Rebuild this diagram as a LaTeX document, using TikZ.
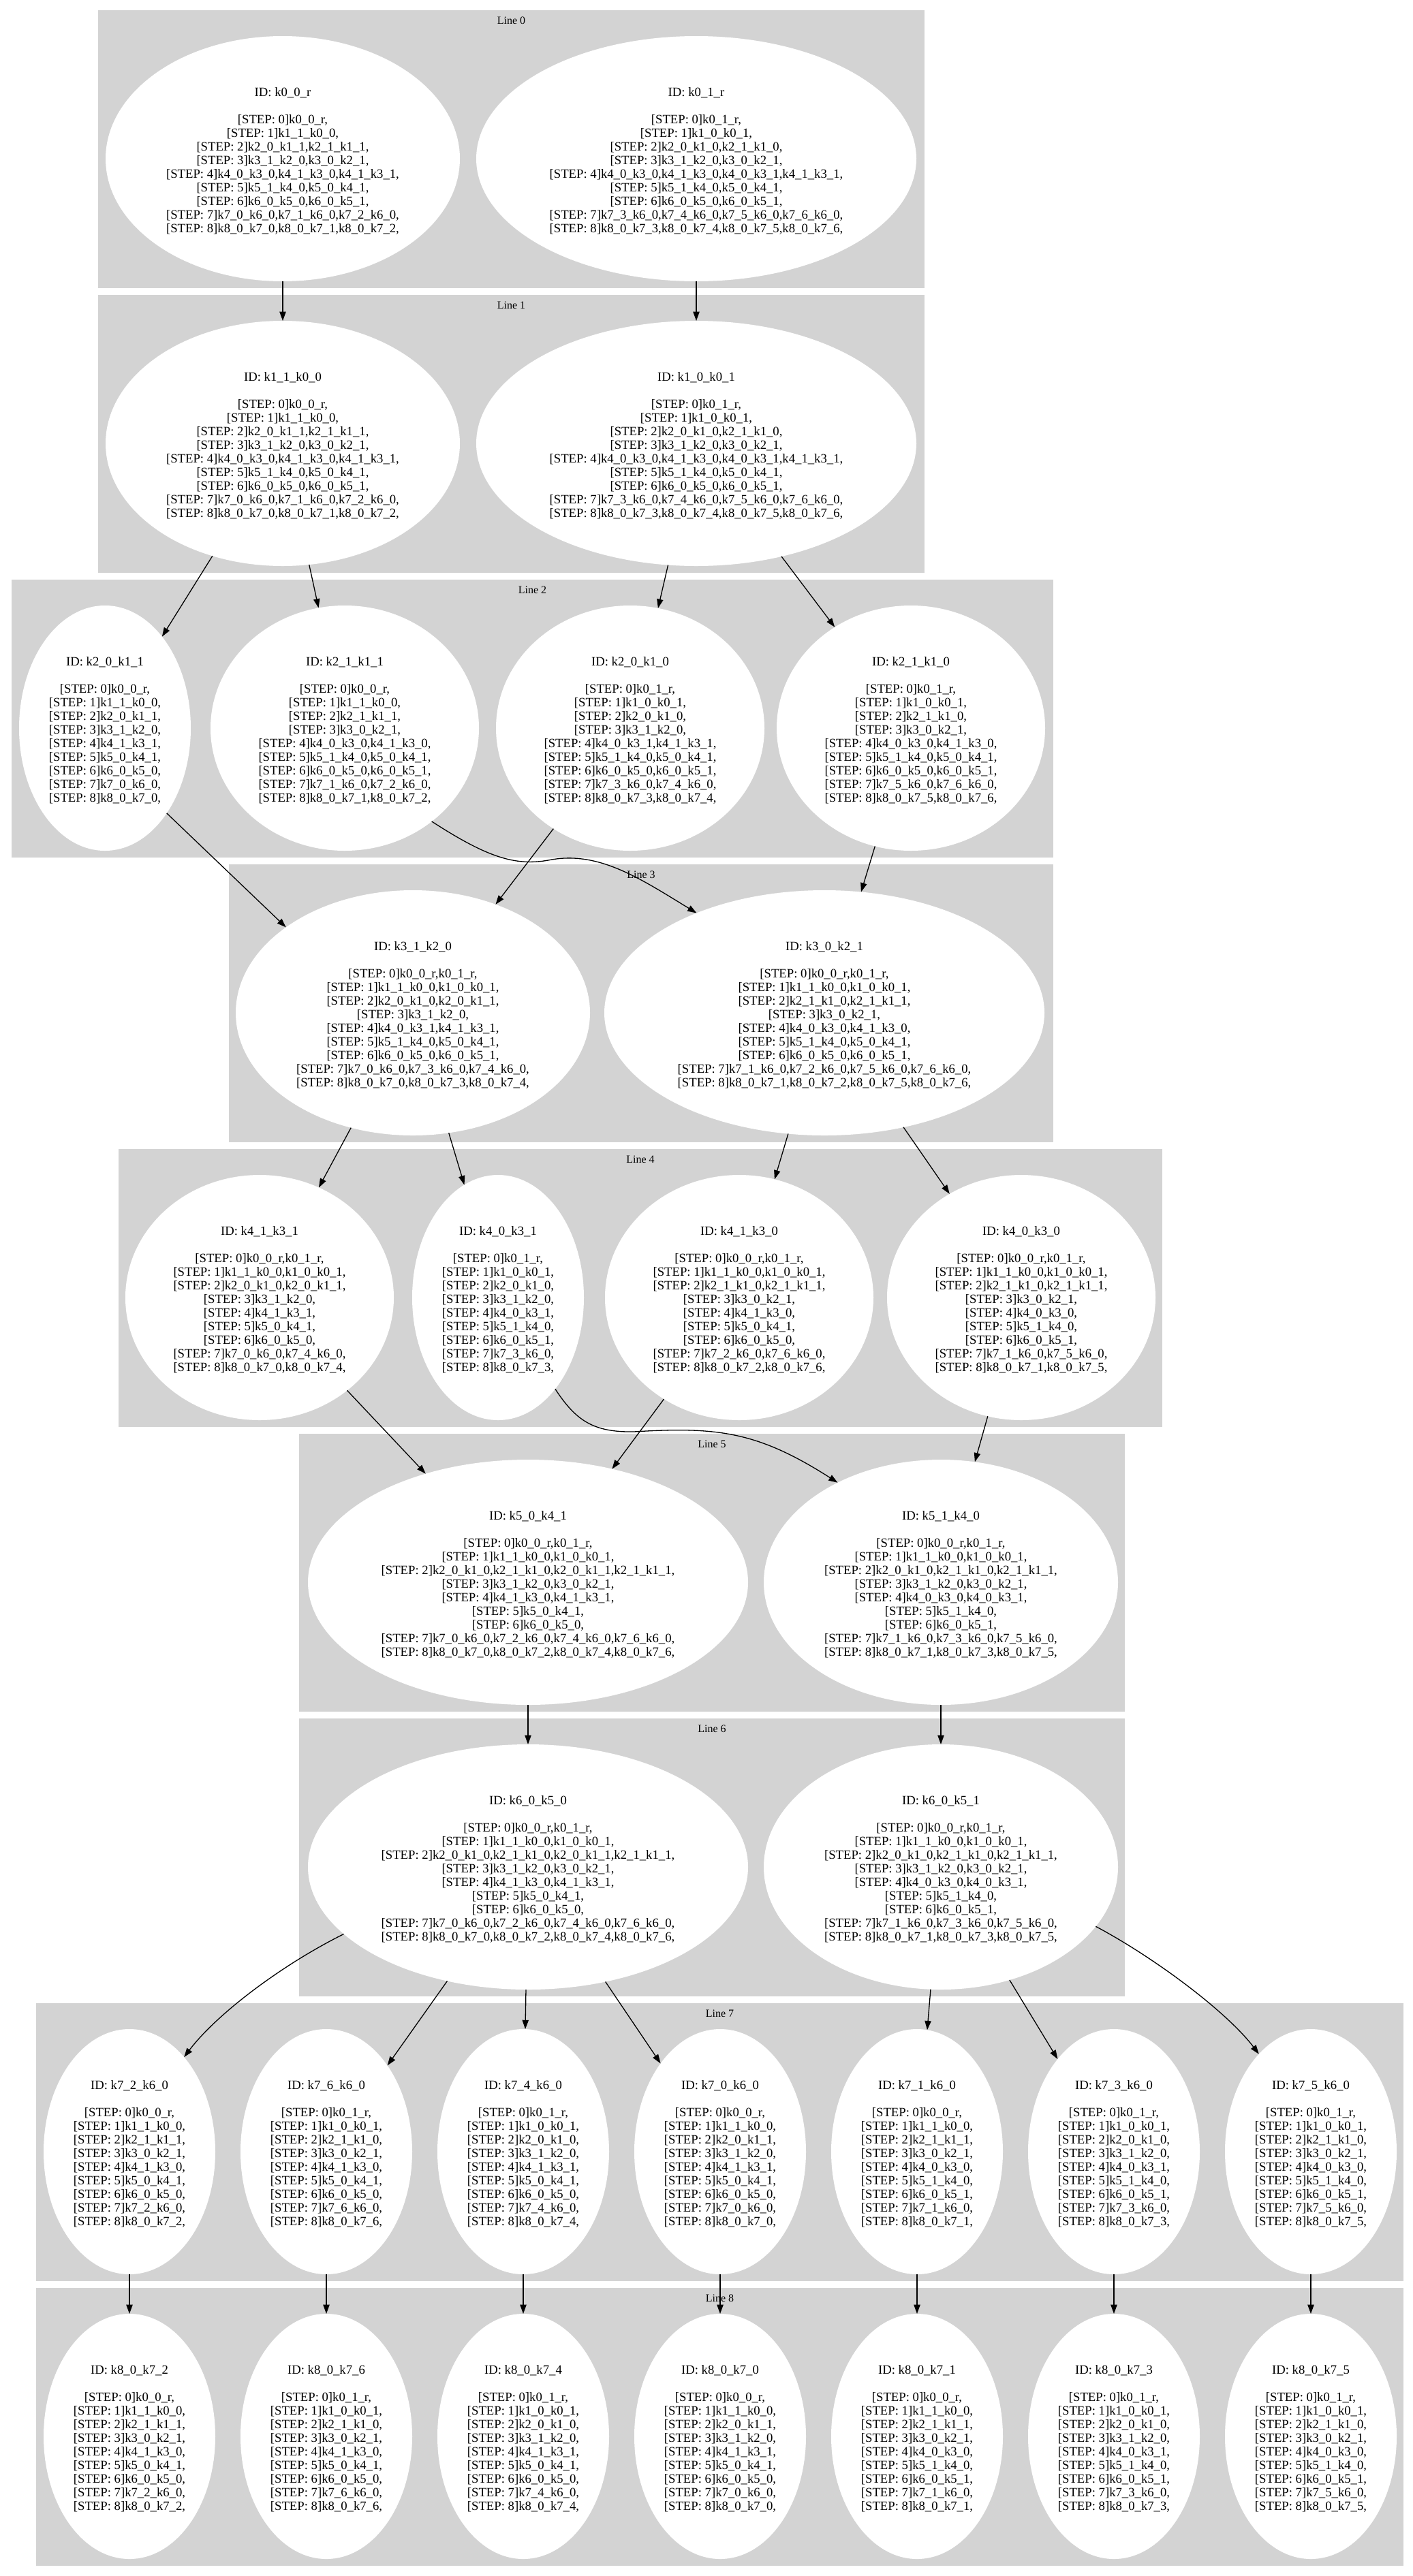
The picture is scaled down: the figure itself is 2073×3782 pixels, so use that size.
\documentclass[tikz,border=0pt]{standalone}
\usepackage{fontspec}
\setmainfont{Liberation Serif}
\usetikzlibrary{arrows.meta}
\usetikzlibrary{shapes.geometric}
\definecolor{clustergray}{RGB}{211,211,211}
\catcode`\_=12
\newcommand{\sline}[2]{[STEP: #1]#2,}
\newcommand{\idtext}[1]{\mbox{}\\ID: #1\\\mbox{}\\}
\newcommand{\chain}[9]{\sline{0}{#1}\\\sline{1}{#2}\\\sline{2}{#3}\\\sline{3}{#4}\\\sline{4}{#5}\\\sline{5}{#6}\\\sline{6}{#7}\\\sline{7}{#8}\\\sline{8}{#9}}
\newcommand{\rootLeft}{\chain{k0_0_r}{k1_1_k0_0}{k2_0_k1_1,k2_1_k1_1}{k3_1_k2_0,k3_0_k2_1}{k4_0_k3_0,k4_1_k3_0,k4_1_k3_1}{k5_1_k4_0,k5_0_k4_1}{k6_0_k5_0,k6_0_k5_1}{k7_0_k6_0,k7_1_k6_0,k7_2_k6_0}{k8_0_k7_0,k8_0_k7_1,k8_0_k7_2}}
\newcommand{\rootRight}{\chain{k0_1_r}{k1_0_k0_1}{k2_0_k1_0,k2_1_k1_0}{k3_1_k2_0,k3_0_k2_1}{k4_0_k3_0,k4_1_k3_0,k4_0_k3_1,k4_1_k3_1}{k5_1_k4_0,k5_0_k4_1}{k6_0_k5_0,k6_0_k5_1}{k7_3_k6_0,k7_4_k6_0,k7_5_k6_0,k7_6_k6_0}{k8_0_k7_3,k8_0_k7_4,k8_0_k7_5,k8_0_k7_6}}
\newcommand{\midLeft}{\chain{k0_0_r,k0_1_r}{k1_1_k0_0,k1_0_k0_1}{k2_0_k1_0,k2_1_k1_0,k2_0_k1_1,k2_1_k1_1}{k3_1_k2_0,k3_0_k2_1}{k4_1_k3_0,k4_1_k3_1}{k5_0_k4_1}{k6_0_k5_0}{k7_0_k6_0,k7_2_k6_0,k7_4_k6_0,k7_6_k6_0}{k8_0_k7_0,k8_0_k7_2,k8_0_k7_4,k8_0_k7_6}}
\newcommand{\midRight}{\chain{k0_0_r,k0_1_r}{k1_1_k0_0,k1_0_k0_1}{k2_0_k1_0,k2_1_k1_0,k2_1_k1_1}{k3_1_k2_0,k3_0_k2_1}{k4_0_k3_0,k4_0_k3_1}{k5_1_k4_0}{k6_0_k5_1}{k7_1_k6_0,k7_3_k6_0,k7_5_k6_0}{k8_0_k7_1,k8_0_k7_3,k8_0_k7_5}}
\newcommand{\walkZero}{\chain{k0_0_r}{k1_1_k0_0}{k2_0_k1_1}{k3_1_k2_0}{k4_1_k3_1}{k5_0_k4_1}{k6_0_k5_0}{k7_0_k6_0}{k8_0_k7_0}}
\newcommand{\walkOne}{\chain{k0_0_r}{k1_1_k0_0}{k2_1_k1_1}{k3_0_k2_1}{k4_0_k3_0}{k5_1_k4_0}{k6_0_k5_1}{k7_1_k6_0}{k8_0_k7_1}}
\newcommand{\walkTwo}{\chain{k0_0_r}{k1_1_k0_0}{k2_1_k1_1}{k3_0_k2_1}{k4_1_k3_0}{k5_0_k4_1}{k6_0_k5_0}{k7_2_k6_0}{k8_0_k7_2}}
\newcommand{\walkThree}{\chain{k0_1_r}{k1_0_k0_1}{k2_0_k1_0}{k3_1_k2_0}{k4_0_k3_1}{k5_1_k4_0}{k6_0_k5_1}{k7_3_k6_0}{k8_0_k7_3}}
\newcommand{\walkFour}{\chain{k0_1_r}{k1_0_k0_1}{k2_0_k1_0}{k3_1_k2_0}{k4_1_k3_1}{k5_0_k4_1}{k6_0_k5_0}{k7_4_k6_0}{k8_0_k7_4}}
\newcommand{\walkFive}{\chain{k0_1_r}{k1_0_k0_1}{k2_1_k1_0}{k3_0_k2_1}{k4_0_k3_0}{k5_1_k4_0}{k6_0_k5_1}{k7_5_k6_0}{k8_0_k7_5}}
\newcommand{\walkSix}{\chain{k0_1_r}{k1_0_k0_1}{k2_1_k1_0}{k3_0_k2_1}{k4_1_k3_0}{k5_0_k4_1}{k6_0_k5_0}{k7_6_k6_0}{k8_0_k7_6}}

\begin{document}
\begin{tikzpicture}[x=1pt, y=-1pt, >={Triangle[length=13.3pt, width=9.3pt]},
  trace/.style={ellipse, fill=white, inner sep=0pt, outer sep=0pt, minimum height=360pt, align=center, font=\fontsize{18.7}{20}\selectfont},
  wone/.style={minimum width=252pt}, wtwo/.style={minimum width=394pt},
  wthree/.style={minimum width=520pt}, wfour/.style={minimum width=646pt},
  link/.style={->, line width=1.3pt},
  tag/.style={inner sep=0pt, font=\fontsize{16}{19}\selectfont}]
\useasboundingbox (0,0) rectangle (2073,3782);
\foreach \i/\xa/\xb in {0/144/1357, 1/144/1357, 2/17/1546, 3/336/1546, 4/174/1706, 5/439/1651, 6/439/1651, 7/53/2060, 8/53/2060} {
 \fill[clustergray] (\xa,{15+418*\i}) rectangle (\xb,{423+418*\i});
 \node[tag] (line\i) at ({(\xa+\xb)/2},{30+418*\i}) {Line \i};
}
\node[trace,wthree] (k0_0_r) at (415,233) {\idtext{k0_0_r}\rootLeft};
\node[trace,wfour] (k0_1_r) at (1022,233) {\idtext{k0_1_r}\rootRight};
\node[trace,wthree] (k1_1_k0_0) at (415,651) {\idtext{k1_1_k0_0}\rootLeft};
\node[trace,wfour] (k1_0_k0_1) at (1022,651) {\idtext{k1_0_k0_1}\rootRight};
\node[trace,wone] (k2_0_k1_1) at (154,1069) {\idtext{k2_0_k1_1}\walkZero};
\node[trace,wtwo] (k2_1_k1_1) at (506,1069) {\idtext{k2_1_k1_1}\chain{k0_0_r}{k1_1_k0_0}{k2_1_k1_1}{k3_0_k2_1}{k4_0_k3_0,k4_1_k3_0}{k5_1_k4_0,k5_0_k4_1}{k6_0_k5_0,k6_0_k5_1}{k7_1_k6_0,k7_2_k6_0}{k8_0_k7_1,k8_0_k7_2}};
\node[trace,wtwo] (k2_0_k1_0) at (925,1069) {\idtext{k2_0_k1_0}\chain{k0_1_r}{k1_0_k0_1}{k2_0_k1_0}{k3_1_k2_0}{k4_0_k3_1,k4_1_k3_1}{k5_1_k4_0,k5_0_k4_1}{k6_0_k5_0,k6_0_k5_1}{k7_3_k6_0,k7_4_k6_0}{k8_0_k7_3,k8_0_k7_4}};
\node[trace,wtwo] (k2_1_k1_0) at (1337,1069) {\idtext{k2_1_k1_0}\chain{k0_1_r}{k1_0_k0_1}{k2_1_k1_0}{k3_0_k2_1}{k4_0_k3_0,k4_1_k3_0}{k5_1_k4_0,k5_0_k4_1}{k6_0_k5_0,k6_0_k5_1}{k7_5_k6_0,k7_6_k6_0}{k8_0_k7_5,k8_0_k7_6}};
\node[trace,wthree] (k3_1_k2_0) at (606,1487) {\idtext{k3_1_k2_0}\chain{k0_0_r,k0_1_r}{k1_1_k0_0,k1_0_k0_1}{k2_0_k1_0,k2_0_k1_1}{k3_1_k2_0}{k4_0_k3_1,k4_1_k3_1}{k5_1_k4_0,k5_0_k4_1}{k6_0_k5_0,k6_0_k5_1}{k7_0_k6_0,k7_3_k6_0,k7_4_k6_0}{k8_0_k7_0,k8_0_k7_3,k8_0_k7_4}};
\node[trace,wfour] (k3_0_k2_1) at (1210,1487) {\idtext{k3_0_k2_1}\chain{k0_0_r,k0_1_r}{k1_1_k0_0,k1_0_k0_1}{k2_1_k1_0,k2_1_k1_1}{k3_0_k2_1}{k4_0_k3_0,k4_1_k3_0}{k5_1_k4_0,k5_0_k4_1}{k6_0_k5_0,k6_0_k5_1}{k7_1_k6_0,k7_2_k6_0,k7_5_k6_0,k7_6_k6_0}{k8_0_k7_1,k8_0_k7_2,k8_0_k7_5,k8_0_k7_6}};
\node[trace,wtwo] (k4_1_k3_1) at (381,1905) {\idtext{k4_1_k3_1}\chain{k0_0_r,k0_1_r}{k1_1_k0_0,k1_0_k0_1}{k2_0_k1_0,k2_0_k1_1}{k3_1_k2_0}{k4_1_k3_1}{k5_0_k4_1}{k6_0_k5_0}{k7_0_k6_0,k7_4_k6_0}{k8_0_k7_0,k8_0_k7_4}};
\node[trace,wone] (k4_0_k3_1) at (731,1905) {\idtext{k4_0_k3_1}\walkThree};
\node[trace,wtwo] (k4_1_k3_0) at (1085,1905) {\idtext{k4_1_k3_0}\chain{k0_0_r,k0_1_r}{k1_1_k0_0,k1_0_k0_1}{k2_1_k1_0,k2_1_k1_1}{k3_0_k2_1}{k4_1_k3_0}{k5_0_k4_1}{k6_0_k5_0}{k7_2_k6_0,k7_6_k6_0}{k8_0_k7_2,k8_0_k7_6}};
\node[trace,wtwo] (k4_0_k3_0) at (1499,1905) {\idtext{k4_0_k3_0}\chain{k0_0_r,k0_1_r}{k1_1_k0_0,k1_0_k0_1}{k2_1_k1_0,k2_1_k1_1}{k3_0_k2_1}{k4_0_k3_0}{k5_1_k4_0}{k6_0_k5_1}{k7_1_k6_0,k7_5_k6_0}{k8_0_k7_1,k8_0_k7_5}};
\node[trace,wfour] (k5_0_k4_1) at (775,2323) {\idtext{k5_0_k4_1}\midLeft};
\node[trace,wthree] (k5_1_k4_0) at (1381,2323) {\idtext{k5_1_k4_0}\midRight};
\node[trace,wfour] (k6_0_k5_0) at (775,2741) {\idtext{k6_0_k5_0}\midLeft};
\node[trace,wthree] (k6_0_k5_1) at (1381,2741) {\idtext{k6_0_k5_1}\midRight};
\foreach \px/\kk/\walk in {190/2/\walkTwo, 479/6/\walkSix, 768/4/\walkFour, 1057/0/\walkZero, 1346/1/\walkOne, 1635/3/\walkThree, 1924/5/\walkFive} {
 \node[trace,wone] (k7_\kk_k6_0) at (\px,3159) {\idtext{k7_\kk_k6_0}\walk};
 \node[trace,wone] (k8_0_k7_\kk) at (\px,3577) {\idtext{k8_0_k7_\kk}\walk};
 \draw[link] (k7_\kk_k6_0) -- (k8_0_k7_\kk);
}
\foreach \a/\b in {k0_0_r/k1_1_k0_0, k0_1_r/k1_0_k0_1, k1_1_k0_0/k2_0_k1_1, k1_1_k0_0/k2_1_k1_1, k1_0_k0_1/k2_0_k1_0, k1_0_k0_1/k2_1_k1_0, k2_0_k1_0/k3_1_k2_0, k2_1_k1_0/k3_0_k2_1, k3_1_k2_0/k4_1_k3_1, k3_1_k2_0/k4_0_k3_1, k3_0_k2_1/k4_1_k3_0, k3_0_k2_1/k4_0_k3_0, k4_1_k3_1/k5_0_k4_1, k4_1_k3_0/k5_0_k4_1, k4_0_k3_0/k5_1_k4_0, k5_0_k4_1/k6_0_k5_0, k5_1_k4_0/k6_0_k5_1, k6_0_k5_0/k7_6_k6_0, k6_0_k5_0/k7_4_k6_0, k6_0_k5_0/k7_0_k6_0, k6_0_k5_1/k7_1_k6_0, k6_0_k5_1/k7_3_k6_0}
 \draw[link] (\a) -- (\b);
\draw[link] (k2_0_k1_1.-54) -- (k3_1_k2_0.146);
\draw[link] (k2_1_k1_1.-47) .. controls (720,1262) and (760,1272) .. (810,1262) .. controls (880,1250) and (940,1290) .. (k3_0_k2_1.142);
\draw[link] (k4_0_k3_1.-58) .. controls (845,2085) and (870,2103) .. (930,2102) .. controls (1050,2095) and (1110,2100) .. (k5_1_k4_0.136);
\draw[link] (k6_0_k5_0.-160) .. controls (413,2885) and (318,2957) .. (k7_2_k6_0.60);
\draw[link] (k6_0_k5_1.-21) .. controls (1696,2875) and (1801,2954) .. (k7_5_k6_0.118);
\end{tikzpicture}
\end{document}
